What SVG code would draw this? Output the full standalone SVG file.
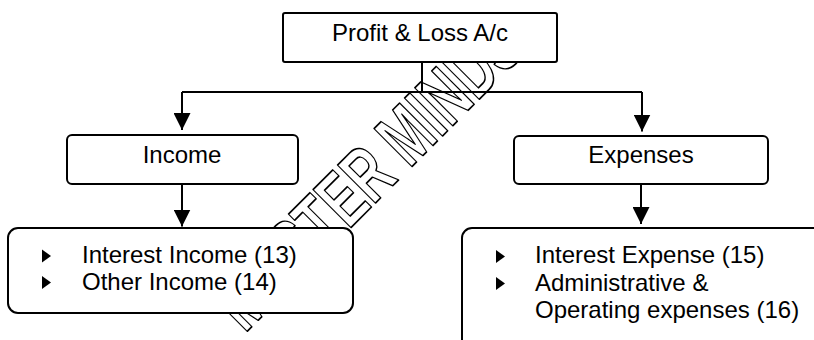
<svg xmlns="http://www.w3.org/2000/svg" width="814" height="340" viewBox="0 0 814 340">
<style>
.box{fill:#fff;stroke:#000;stroke-width:2}
.lbl{font-family:"Liberation Sans",Arial,sans-serif;font-size:24px;fill:#000}
.con{fill:none;stroke:#000;stroke-width:2}
.wm{font-family:"Liberation Sans",Arial,sans-serif;font-weight:bold;font-size:78px;fill:none;stroke:#000;stroke-width:1.7;stroke-linejoin:round}
</style>
<defs>
<marker id="ah" viewBox="0 0 10 10" refX="10" refY="5" markerUnits="userSpaceOnUse" markerWidth="17" markerHeight="17" orient="auto">
<path d="M0,0 L10,5 L0,10 Z" fill="#000"/>
</marker>
<path id="bul" d="M0,0 L9,6.5 L0,13 Z" fill="#000"/>
</defs>
<rect width="814" height="340" fill="#fff"/>
<g id="watermark" transform="translate(244.7,333.8) rotate(-45)">
<text class="wm" x="0" y="0" textLength="400" lengthAdjust="spacingAndGlyphs">MASTER MINDS</text>
</g>
<g id="connectors">
<path class="con" d="M422,62 V92"/>
<path class="con" d="M182,92 H642"/>
<path class="con" d="M182,92 V130" marker-end="url(#ah)"/>
<path class="con" d="M642,92 V131.5" marker-end="url(#ah)"/>
<path class="con" d="M182,184 V226.5" marker-end="url(#ah)"/>
<path class="con" d="M641,184 V224" marker-end="url(#ah)"/>
</g>
<g id="pl">
<rect class="box" x="283" y="13" width="274" height="49" rx="2"/>
<text class="lbl" x="420" y="41" text-anchor="middle">Profit &amp; Loss A/c</text>
</g>
<g id="income">
<rect class="box" x="67" y="135" width="231" height="49" rx="5"/>
<text class="lbl" x="182" y="163" text-anchor="middle">Income</text>
</g>
<g id="expenses">
<rect class="box" x="514" y="136" width="254" height="48" rx="5"/>
<text class="lbl" x="641" y="163" text-anchor="middle">Expenses</text>
</g>
<g id="income-items">
<rect class="box" x="8" y="228" width="345" height="85" rx="10"/>
<use href="#bul" x="42" y="249.5"/>
<use href="#bul" x="42" y="276"/>
<text class="lbl" x="82" y="263">Interest Income (13)</text>
<text class="lbl" x="82" y="290">Other Income (14)</text>
</g>
<g id="expense-items">
<rect class="box" x="462" y="228" width="400" height="150" rx="10"/>
<use href="#bul" x="496" y="250"/>
<use href="#bul" x="496" y="277"/>
<text class="lbl" x="535" y="263">Interest Expense (15)</text>
<text class="lbl" x="535" y="291">Administrative &amp;</text>
<text class="lbl" x="535" y="318">Operating expenses (16)</text>
</g>
</svg>
